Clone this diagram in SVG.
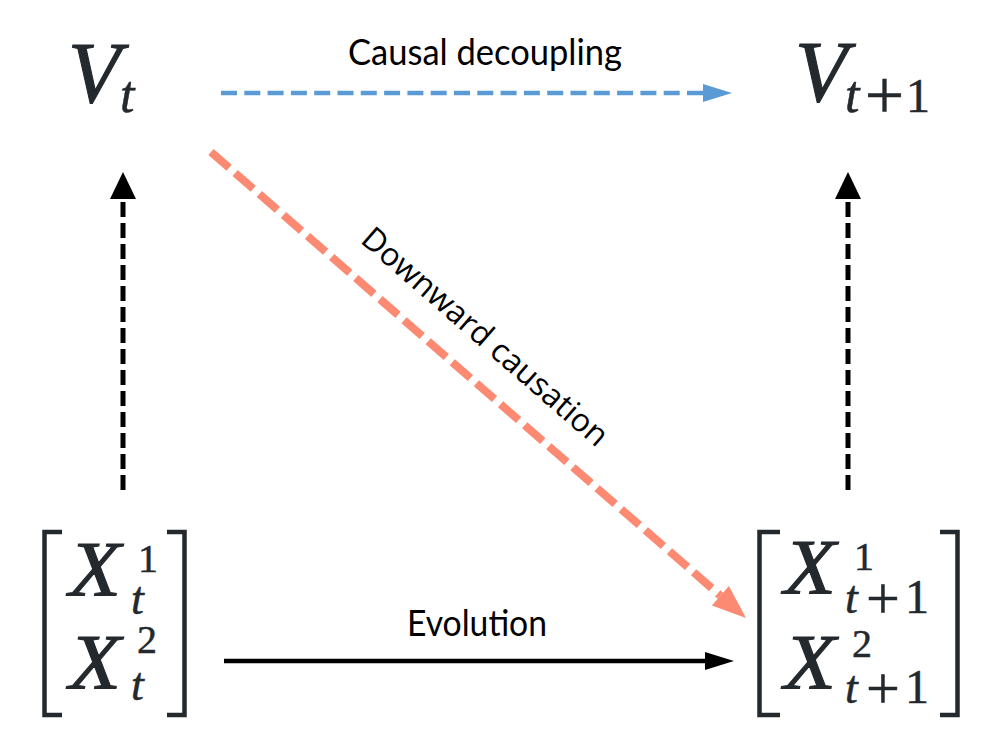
<svg xmlns="http://www.w3.org/2000/svg" width="982" height="746" viewBox="0 0 982 746">
<style>
.m{font-family:"Liberation Serif","Times New Roman",serif;fill:#24292e;stroke:#24292e;stroke-width:0.5}
.big{stroke-width:1.1}
.i{font-style:italic}
.lbl{font-family:Lato,"Liberation Sans",sans-serif;font-size:36px;fill:#000}
.lbl2{font-family:"Open Sans","Liberation Sans",sans-serif;font-size:32px;fill:#000}
.br{fill:none;stroke:#24292e;stroke-width:4.5;stroke-linejoin:miter;stroke-linecap:butt}
.vd{fill:none;stroke:#000;stroke-width:5;stroke-dasharray:15 6}
</style>
<defs>
<marker id="ahBlack" markerUnits="userSpaceOnUse" orient="auto" refX="0" refY="0" markerWidth="40" markerHeight="40" overflow="visible">
<path d="M0,-13 L27,0 L0,13 Z" fill="#000"/>
</marker>
<marker id="ahEvo" markerUnits="userSpaceOnUse" orient="auto" refX="0" refY="0" markerWidth="40" markerHeight="40" overflow="visible">
<path d="M0,-9 L29,0 L0,9 Z" fill="#000"/>
</marker>
<marker id="ahBlue" markerUnits="userSpaceOnUse" orient="auto" refX="0" refY="0" markerWidth="40" markerHeight="40" overflow="visible">
<path d="M0,-9 L29,0 L0,9 Z" fill="#5B9BD5"/>
</marker>
<marker id="ahRed" markerUnits="userSpaceOnUse" orient="auto" refX="0" refY="0" markerWidth="50" markerHeight="50" overflow="visible">
<path d="M0,-13 L34,0 L0,13 Z" fill="#FC8A72"/>
</marker>
</defs>

<g id="Vt">
<text class="m i big" x="68" y="102" font-size="86">V</text>
<text class="m i" x="120" y="112" font-size="52">t</text>
</g>

<g id="Vt1">
<text class="m i big" x="795" y="101" font-size="86">V</text>
<text class="m i" x="845" y="112" font-size="52">t</text>
<text class="m" x="884.5" y="119" font-size="70" text-anchor="middle">+</text>
<text class="m" x="906" y="112" font-size="48">1</text>
</g>

<g id="Xt">
<path class="br" d="M62,532 H44.5 V715 H62"/>
<path class="br" d="M167,532 H184.5 V715 H167"/>
<text class="m i big" x="69" y="595" font-size="78" textLength="52" lengthAdjust="spacingAndGlyphs">X</text>
<text class="m" x="138" y="572" font-size="40">1</text>
<text class="m i" x="131" y="614" font-size="46">t</text>
<text class="m i big" x="69" y="688" font-size="78" textLength="52" lengthAdjust="spacingAndGlyphs">X</text>
<text class="m" x="137" y="653" font-size="40">2</text>
<text class="m i" x="131" y="700" font-size="46">t</text>
</g>

<g id="Xt1">
<path class="br" d="M780,532 H759.5 V715 H780"/>
<path class="br" d="M940,532 H957.5 V715 H940"/>
<text class="m i big" x="784" y="593" font-size="78" textLength="52" lengthAdjust="spacingAndGlyphs">X</text>
<text class="m" x="854" y="570" font-size="40">1</text>
<text class="m i" x="845" y="613" font-size="46">t</text>
<text class="m" x="883" y="618" font-size="60" text-anchor="middle">+</text>
<text class="m" x="905" y="613" font-size="48">1</text>
<text class="m i big" x="784" y="688" font-size="78" textLength="52" lengthAdjust="spacingAndGlyphs">X</text>
<text class="m" x="852" y="657" font-size="40">2</text>
<text class="m i" x="845" y="703" font-size="46">t</text>
<text class="m" x="883" y="708" font-size="60" text-anchor="middle">+</text>
<text class="m" x="905" y="703" font-size="48">1</text>
</g>

<g id="connectors">
<line x1="221" y1="93" x2="703" y2="93" stroke="#5B9BD5" stroke-width="4.5" stroke-dasharray="16 7.3" marker-end="url(#ahBlue)"/>
<line x1="224" y1="661" x2="705" y2="661" stroke="#000" stroke-width="4.5" marker-end="url(#ahEvo)"/>
<line class="vd" x1="123" y1="490" x2="123" y2="199" marker-end="url(#ahBlack)"/>
<line class="vd" x1="848" y1="490" x2="848" y2="199" marker-end="url(#ahBlack)"/>
<line x1="211" y1="152" x2="720.4" y2="595.7" stroke="#FC8A72" stroke-width="8" stroke-dasharray="24 8" marker-end="url(#ahRed)"/>
</g>

<g id="labels">
<text class="lbl" x="485" y="65" text-anchor="middle" textLength="274" lengthAdjust="spacingAndGlyphs">Causal decoupling</text>
<text class="lbl" x="477" y="636" text-anchor="middle" textLength="140" lengthAdjust="spacingAndGlyphs">Evolution</text>
<text class="lbl2" transform="translate(478,345) rotate(41)" text-anchor="middle">Downward causation</text>
</g>
</svg>
